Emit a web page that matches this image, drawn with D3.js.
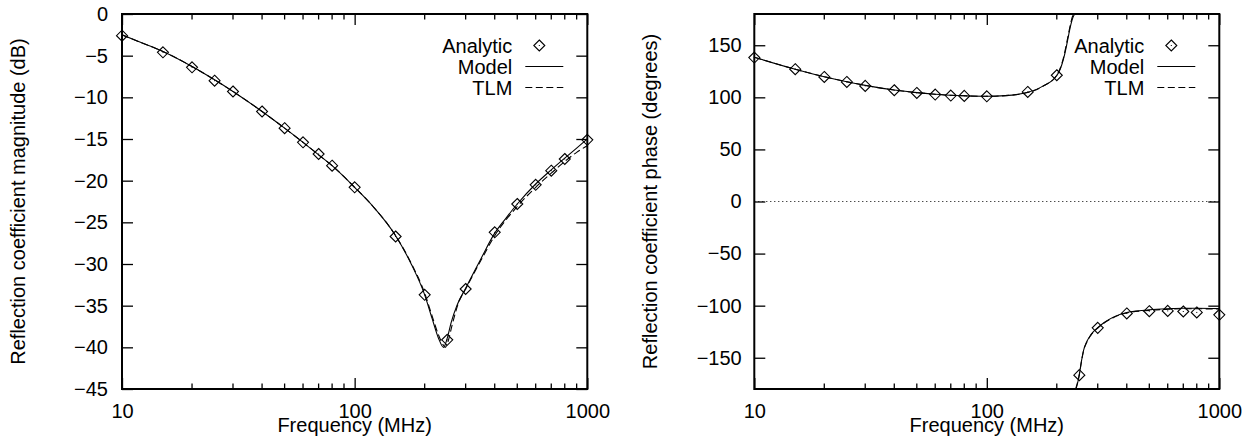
<!DOCTYPE html>
<html>
<head>
<meta charset="utf-8">
<script src="https://cdn.jsdelivr.net/npm/d3@7"></script>
<style>
  html, body { margin: 0; padding: 0; background: #fff; }
  svg { display: block; }
  text { font-family: "Liberation Sans", Arial, Helvetica, sans-serif; font-size: 20px; fill: #000; }
</style>
</head>
<body>
<svg id="chart" width="1260" height="447"></svg>
<script>
// ---------------- data ----------------
const freqTicks = [10, 100, 1000];
const magTicks = [0, -5, -10, -15, -20, -25, -30, -35, -40, -45];
const phaseTicks = [150, 100, 50, 0, -50, -100, -150];
const legendLabels = ["Analytic", "Model", "TLM"];

const analyticFreq  = [10, 15, 20, 25, 30, 40, 50, 60, 70, 80, 100, 150, 200, 250, 300, 400, 500, 600, 700, 800, 1000];
const analyticMag   = [-2.6, -4.6, -6.4, -8.0, -9.3, -11.7, -13.7, -15.4, -16.8, -18.2, -20.8, -26.7, -33.7, -39.1, -33.0, -26.2, -22.8, -20.5, -18.8, -17.4, -15.1];
const analyticPhase = [138.2, 127.0, 119.6, 114.8, 111.0, 106.8, 104.2, 102.7, 101.7, 101.4, 101.0, 105.2, 121.2, -166.7, -121.3, -107.5, -105.3, -105.0, -105.6, -106.5, -108.8];

const modelMagFreq = [10, 12, 15, 20, 25, 30, 40, 50, 60, 70, 80, 100, 120, 150, 175, 200, 215, 230, 241, 250, 260, 275, 300, 350, 400, 450, 500, 600, 700, 800, 900, 1000];
const modelMag     = [-2.5, -3.4, -4.5, -6.3, -7.9, -9.3, -11.7, -13.7, -15.4, -16.9, -18.2, -20.8, -23.1, -26.6, -30.0, -33.7, -36.5, -39.0, -40.0, -38.9, -37.0, -35.0, -32.9, -29.3, -26.3, -24.4, -22.8, -20.4, -18.7, -17.3, -16.1, -15.0];

const tlmMagFreq = [10, 12, 15, 20, 25, 30, 40, 50, 60, 70, 80, 100, 120, 150, 175, 200, 215, 230, 240, 245, 252, 262, 280, 300, 350, 400, 500, 600, 700, 800, 900, 1000];
const tlmMag     = [-2.5, -3.4, -4.5, -6.3, -7.9, -9.3, -11.7, -13.7, -15.4, -16.9, -18.2, -20.8, -23.1, -26.6, -29.9, -33.5, -36.2, -38.6, -39.7, -40.0, -39.3, -37.4, -34.6, -33.0, -29.5, -26.6, -23.1, -20.8, -19.1, -17.7, -16.6, -15.8];

const modelPhaseFreq = [10, 15, 20, 25, 30, 40, 50, 60, 70, 80, 100, 120, 150, 175, 200, 205, 210, 215, 220, 225, 230, 235, 239, 242, 246, 250, 255, 260, 270, 280, 300, 350, 400, 500, 600, 700, 800, 1000];
const modelPhase     = [138.5, 127.0, 119.8, 115.0, 111.5, 107.0, 104.5, 103.0, 102.0, 101.5, 101.0, 101.6, 104.8, 111.0, 121.0, 125.0, 131.0, 139.0, 149.0, 160.0, 170.0, 177.0, 180.0, -180.0, -174.0, -166.0, -154.0, -144.0, -134.0, -128.0, -121.0, -111.0, -106.5, -104.0, -103.0, -102.5, -102.5, -102.8];

const tlmPhaseFreq = [10, 15, 20, 25, 30, 40, 50, 60, 70, 80, 100, 120, 150, 175, 200, 205, 210, 215, 220, 225, 230, 234, 238, 241, 245, 250, 255, 260, 270, 280, 300, 350, 400, 500, 600, 700, 800, 1000];
const tlmPhase     = [138.5, 127.0, 119.8, 115.0, 111.5, 107.0, 104.5, 103.0, 102.0, 101.5, 101.0, 101.6, 104.6, 110.8, 121.5, 125.8, 132.0, 140.5, 151.0, 162.0, 172.0, 178.0, 180.0, -180.0, -174.5, -166.5, -154.5, -144.5, -134.5, -128.5, -121.5, -111.5, -107.0, -104.5, -103.5, -103.0, -103.0, -103.2];

// ---------------- drawing ----------------
const svg = d3.select("#chart");

function panel(cfg) {
  const { left, right, top, bottom } = cfg;
  const x = d3.scaleLog().domain([10, 1000]).range([left, right]);
  const y = d3.scaleLinear().domain(cfg.yDomain).range([bottom, top]);
  const g = svg.append("g");

  const clipId = "clip" + cfg.id;
  svg.append("clipPath").attr("id", clipId)
    .append("rect").attr("x", left).attr("y", top)
    .attr("width", right - left).attr("height", bottom - top);

  // zero line (dotted)
  if (cfg.zeroLine) {
    g.append("line")
      .attr("x1", left).attr("x2", right)
      .attr("y1", y(0)).attr("y2", y(0))
      .attr("stroke", "#000").attr("stroke-width", 1)
      .attr("stroke-dasharray", "1,3");
  }

  // minor x ticks (2..9 per decade), bottom and top
  const minor = [];
  for (let d = 10; d < 1000; d *= 10) for (let m = 2; m <= 9; m++) minor.push(d * m);
  g.append("g").selectAll("line.mb").data(minor).join("line")
    .attr("x1", d => x(d)).attr("x2", d => x(d))
    .attr("y1", bottom).attr("y2", bottom - 5.5)
    .attr("stroke", "#000").attr("stroke-width", 1.3);
  g.append("g").selectAll("line.mt").data(minor).join("line")
    .attr("x1", d => x(d)).attr("x2", d => x(d))
    .attr("y1", top).attr("y2", top + 5.5)
    .attr("stroke", "#000").attr("stroke-width", 1.3);

  // axes (major ticks, inward)
  const ax = g.append("g").attr("transform", `translate(0,${bottom})`)
    .call(d3.axisBottom(x).tickValues(freqTicks).tickFormat(d3.format("d"))
      .tickSize(-11).tickPadding(15));
  const axT = g.append("g").attr("transform", `translate(0,${top})`)
    .call(d3.axisTop(x).tickValues(freqTicks).tickFormat("").tickSize(-11));
  const ay = g.append("g").attr("transform", `translate(${left},0)`)
    .call(d3.axisLeft(y).tickValues(cfg.yTicks).tickFormat(d3.format("d"))
      .tickSize(-11).tickPadding(cfg.yPad));
  const ayR = g.append("g").attr("transform", `translate(${right},0)`)
    .call(d3.axisRight(y).tickValues(cfg.yTicks).tickFormat("").tickSize(-11));
  [ax, axT, ay, ayR].forEach(a => {
    a.select(".domain").remove();
    a.selectAll(".tick line").attr("stroke", "#000").attr("stroke-width", 1.3);
    a.selectAll("text").attr("font-size", 20)
      .attr("font-family", '"Liberation Sans", Arial, sans-serif').attr("fill", "#000");
  });

  // curves
  const line = d3.line().x(d => x(d[0])).y(d => y(d[1])).curve(d3.curveMonotoneX);
  function segments(fr, vals) {
    const segs = [[]];
    fr.forEach((f, i) => {
      if (i > 0 && Math.abs(vals[i] - vals[i - 1]) > 180) segs.push([]);
      segs[segs.length - 1].push([f, vals[i]]);
    });
    return segs;
  }
  const cg = g.append("g").attr("clip-path", `url(#${clipId})`);
  segments(cfg.modelF, cfg.modelV).forEach(s => {
    cg.append("path").attr("d", line(s)).attr("fill", "none")
      .attr("stroke", "#000").attr("stroke-width", 1.1);
  });
  segments(cfg.tlmF, cfg.tlmV).forEach(s => {
    cg.append("path").attr("d", line(s)).attr("fill", "none")
      .attr("stroke", "#000").attr("stroke-width", 1.1)
      .attr("stroke-dasharray", "7,3.5");
  });

  // analytic markers (diamonds with centre dot)
  const diamond = "M0,-5.5L5.5,0L0,5.5L-5.5,0Z";
  const mg = g.append("g");
  analyticFreq.forEach((f, i) => {
    const gx = mg.append("g").attr("transform", `translate(${x(f)},${y(cfg.analytic[i])})`);
    gx.append("path").attr("d", diamond).attr("fill", "none")
      .attr("stroke", "#000").attr("stroke-width", 1.1);
    gx.append("rect").attr("x", -0.5).attr("y", -0.5).attr("width", 1).attr("height", 1)
      .attr("fill", "#000");
  });

  // frame
  g.append("rect").attr("x", left).attr("y", top)
    .attr("width", right - left).attr("height", bottom - top)
    .attr("fill", "none").attr("stroke", "#000").attr("stroke-width", 2);

  // axis labels
  g.append("text").attr("x", (left + right) / 2).attr("y", 432)
    .attr("text-anchor", "middle").text("Frequency (MHz)");
  g.append("text")
    .attr("transform", `translate(${cfg.yLabelX},${(top + bottom) / 2}) rotate(-90)`)
    .attr("text-anchor", "middle").text(cfg.yLabel);

  // legend
  const rows = [45.5, 66.5, 87.5];
  legendLabels.forEach((lab, i) => {
    g.append("text").attr("x", right - 75).attr("y", rows[i])
      .attr("dy", "0.35em").attr("text-anchor", "end").text(lab);
  });
  const lg = g.append("g").attr("transform", `translate(${right - 48},${rows[0]})`);
  lg.append("path").attr("d", diamond).attr("fill", "none")
    .attr("stroke", "#000").attr("stroke-width", 1.1);
  lg.append("rect").attr("x", -0.5).attr("y", -0.5).attr("width", 1).attr("height", 1).attr("fill", "#000");
  g.append("line").attr("x1", right - 62).attr("x2", right - 24)
    .attr("y1", rows[1]).attr("y2", rows[1])
    .attr("stroke", "#000").attr("stroke-width", 1.1);
  g.append("line").attr("x1", right - 62).attr("x2", right - 24)
    .attr("y1", rows[2]).attr("y2", rows[2])
    .attr("stroke", "#000").attr("stroke-width", 1.1)
    .attr("stroke-dasharray", "7,3.5");
}

panel({
  id: "mag", left: 122, right: 587.3, top: 14, bottom: 389,
  yDomain: [-45, 0], yTicks: magTicks, yPad: 14,
  yLabel: "Reflection coefficient magnitude (dB)", yLabelX: 25,
  analytic: analyticMag,
  modelF: modelMagFreq, modelV: modelMag,
  tlmF: tlmMagFreq, tlmV: tlmMag,
  zeroLine: false
});

panel({
  id: "phase", left: 754.3, right: 1219.3, top: 14, bottom: 389,
  yDomain: [-180, 180], yTicks: phaseTicks, yPad: 12.6,
  yLabel: "Reflection coefficient phase (degrees)", yLabelX: 657,
  analytic: analyticPhase,
  modelF: modelPhaseFreq, modelV: modelPhase,
  tlmF: tlmPhaseFreq, tlmV: tlmPhase,
  zeroLine: true
});
</script>
</body>
</html>
